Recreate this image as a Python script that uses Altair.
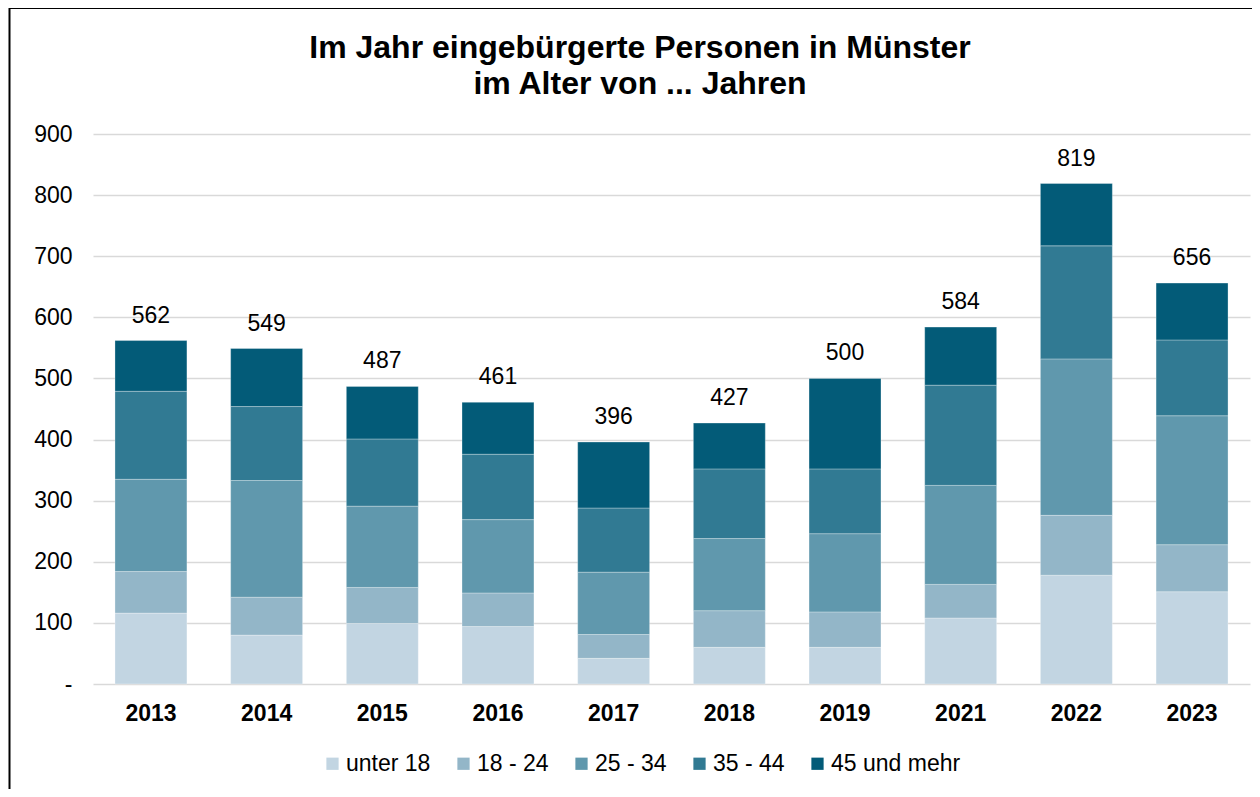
import altair as alt
import pandas as pd

years = ["2013", "2014", "2015", "2016", "2017", "2018", "2019", "2021", "2022", "2023"]
groups = ["unter 18", "18 - 24", "25 - 34", "35 - 44", "45 und mehr"]
unter18 = [116, 80, 99, 94, 42, 60, 60, 108, 178, 151]
a18_24 = [68, 62, 59, 55, 39, 60, 58, 55, 98, 77]
a25_34 = [151, 191, 133, 120, 102, 118, 128, 162, 256, 211]
a35_44 = [144, 121, 110, 107, 105, 114, 106, 164, 185, 124]
a45plus = [83, 95, 86, 85, 108, 75, 148, 95, 102, 93]
totals = [562, 549, 487, 461, 396, 427, 500, 584, 819, 656]
colors = ["#C2D5E2", "#93B6C8", "#6098AD", "#317A93", "#035B78"]

series = [unter18, a18_24, a25_34, a35_44, a45plus]
rows = []
for gi, (g, vals) in enumerate(zip(groups, series)):
    for y, v in zip(years, vals):
        rows.append({"Jahr": y, "Gruppe": g, "Wert": v, "idx": gi})
df = pd.DataFrame(rows)
tot_df = pd.DataFrame({"Jahr": years, "Gesamt": totals})

FONT = "Liberation Sans"
FS = 23

xenc = alt.X(
    "Jahr:N",
    sort=years,
    scale=alt.Scale(paddingInner=0.378, paddingOuter=0.19),
    axis=alt.Axis(
        title=None, labelAngle=0, labelFontWeight="bold", labelFontSize=FS,
        labelColor="black", domain=False, ticks=False, labelPadding=18,
    ),
)

bars = alt.Chart(df).mark_bar(stroke="#ffffff", strokeWidth=0.6, strokeOpacity=0.5).encode(
    x=xenc,
    y=alt.Y(
        "Wert:Q",
        stack="zero",
        scale=alt.Scale(domain=[0, 900], nice=False),
        axis=alt.Axis(
            title=None, values=list(range(0, 1000, 100)),
            labelExpr="datum.value == 0 ? '-' : datum.label",
            domain=False, ticks=False, labelPadding=21, labelFontSize=FS,
            labelColor="black", gridColor="#D9D9D9", gridWidth=1.5,
        ),
    ),
    color=alt.Color(
        "Gruppe:N",
        scale=alt.Scale(domain=groups, range=colors),
        legend=alt.Legend(
            title=None, orient="none", direction="horizontal", columns=5,
            legendX=228, legendY=618, symbolType="square", symbolSize=150,
            symbolStrokeWidth=0, labelFontSize=FS, labelColor="black",
            labelOffset=2, columnPadding=21,
        ),
    ),
    order=alt.Order("idx:Q"),
)

labels = alt.Chart(tot_df).mark_text(dy=-25, fontSize=FS, font=FONT, color="black").encode(
    x=alt.X("Jahr:N", sort=years),
    y=alt.Y("Gesamt:Q"),
    text=alt.Text("Gesamt:Q"),
)

frame = alt.Chart(pd.DataFrame({"f": [0]})).mark_rect(
    fillOpacity=0, stroke="black", strokeWidth=2
).encode(
    x=alt.value(-83.5), x2=alt.value(3000), y=alt.value(-126), y2=alt.value(3000)
)

chart = alt.layer(bars, labels, frame).properties(
    width=1157,
    height=550,
    autosize=alt.AutoSizeParams(type="none"),
    padding={"left": 85, "top": 126, "right": 2, "bottom": 105},
    title=alt.TitleParams(
        ["Im Jahr eingebürgerte Personen in Münster", "im Alter von ... Jahren"],
        fontSize=32, font=FONT, fontWeight="bold", color="black",
        anchor="middle", frame="group", dx=-31.5, offset=-94, lineHeight=36,
    ),
).configure(
    font=FONT, background="white"
).configure_view(stroke=None)

chart.save("out.html", embed_options={"renderer": "svg", "actions": False})
